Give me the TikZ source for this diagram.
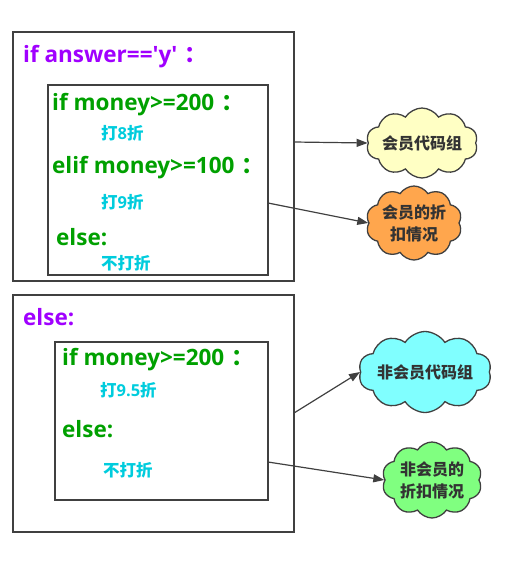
\documentclass[tikz,border=0pt]{standalone}
\usepackage{fontspec}
\setmainfont{Open Sans}[Ligatures=ResetAll]
\newfontfamily\cjk{Noto Sans CJK SC}[Ligatures=ResetAll]
\usetikzlibrary{shapes.symbols,arrows.meta,calc}
\definecolor{purp}{HTML}{A000FF}
\definecolor{grn}{HTML}{00A000}
\definecolor{cyn}{HTML}{00CCDD}
\definecolor{edgec}{HTML}{404040}
\definecolor{cloudtxt}{HTML}{333333}
\definecolor{cyel}{HTML}{FFFFC4}
\definecolor{corg}{HTML}{FFA64D}
\definecolor{ccyn}{HTML}{80FFFF}
\definecolor{cgrn}{HTML}{80FF80}
\newcommand{\fwcolon}{\hspace{7pt}{\cjk ：}}
\begin{document}
\begin{tikzpicture}[x=1pt,y=-1pt,
  box/.style={draw=edgec, line width=1.3pt, inner sep=0pt},
  bigtxt/.style={anchor=west, inner sep=0pt, font=\bfseries\fontsize{22.5}{26}\selectfont},
  ptxt/.style={bigtxt, text=purp},
  gtxt/.style={bigtxt, text=grn},
  ctxt/.style={anchor=west, inner sep=0pt, text=cyn, font=\bfseries\fontsize{16.5}{20}\selectfont},
  cloudn/.style={cloud, cloud puffs=10, cloud puff arc=115, cloud ignores aspect, draw=edgec, line width=1.3pt, text=cloudtxt, align=center, inner sep=0pt, font=\cjk\bfseries\fontsize{16}{22}\selectfont},
  arr/.style={draw=edgec, line width=1.2pt, -{Triangle[length=11pt,width=8pt]}}
]
\useasboundingbox (0,0) rectangle (508,582);
% boxes
\node[box, minimum width=281pt, minimum height=249pt] (outerA) at (153.5,156.5) {};
\node[box, minimum width=220pt, minimum height=190pt] (innerA) at (158,180) {};
\node[box, minimum width=281pt, minimum height=237pt] (outerB) at (153.5,413.5) {};
\node[box, minimum width=213pt, minimum height=158pt] (innerB) at (161.5,421) {};
% texts top
\node[ptxt] (t1) at (23,57) {if answer=={\textquotesingle}y{\textquotesingle}\fwcolon};
\node[gtxt] (t2) at (52,105) {if money>=200\fwcolon};
\node[ctxt] (t3) at (101,133) {{\cjk 打}8{\cjk 折}};
\node[gtxt] (t4) at (52,168) {elif money>=100\fwcolon};
\node[ctxt] (t5) at (101,202) {{\cjk 打}9{\cjk 折}};
\node[gtxt] (t6) at (56,237) {else:};
\node[ctxt] (t7) at (101,263) {{\cjk 不打折}};
% texts bottom
\node[ptxt] (b1) at (23,317) {else:};
\node[gtxt] (b2) at (62,360) {if money>=200\fwcolon};
\node[ctxt] (b3) at (100,390) {{\cjk 打}9.5{\cjk 折}};
\node[gtxt] (b4) at (62,429) {else:};
\node[ctxt] (b5) at (103,470) {{\cjk 不打折}};
% clouds
\node[cloudn, fill=cyel, minimum width=103pt, minimum height=70pt] (c1) at (422,143) {会员代码组};
\node[cloudn, fill=corg, minimum width=96pt, minimum height=74pt] (c2) at (414,223) {会员的折\\扣情况};
\node[cloudn, fill=ccyn, minimum width=130pt, minimum height=81pt] (c3) at (425,372) {非会员代码组};
\node[cloudn, fill=cgrn, minimum width=100pt, minimum height=76pt] (c4) at (432,480) {非会员的\\折扣情况};
% connectors
\coordinate (s1) at (294,142);
\coordinate (s2) at (268,203);
\coordinate (s3) at (294,413);
\coordinate (s4) at (268,462);
\draw[arr] (s1) -- (c1.west);
\draw[arr] (s2) -- (c2.west);
\draw[arr] (s3) -- (c3.west);
\draw[arr] (s4) -- (c4.west);
\end{tikzpicture}
\end{document}
